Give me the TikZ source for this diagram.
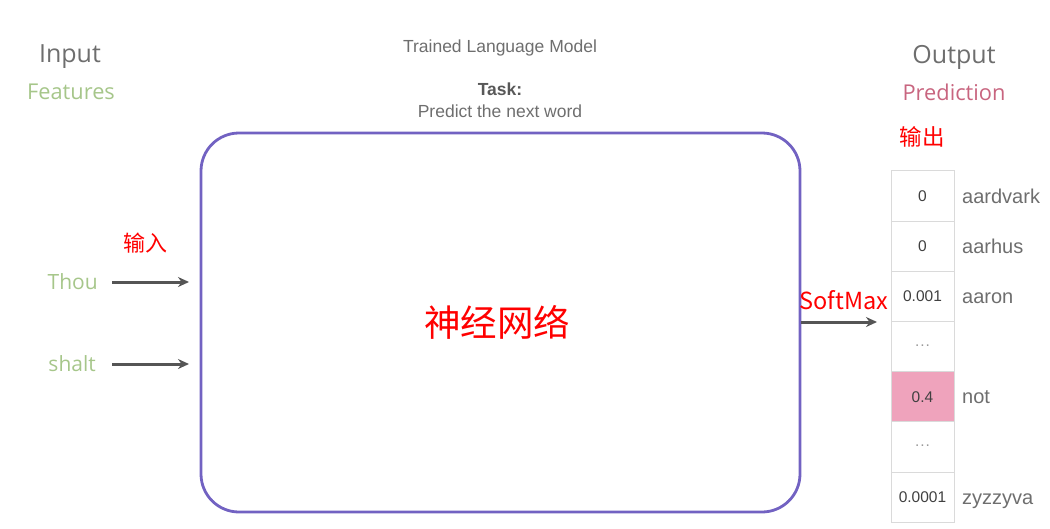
\documentclass[tikz,border=0pt]{standalone}
\usepackage{fontspec}
\setmainfont{Liberation Sans}
\newfontfamily\osans{Open Sans}
\newfontfamily\cjk{Noto Sans CJK SC}
\usetikzlibrary{arrows.meta}
\definecolor{txtgray}{HTML}{6E6E6E}
\definecolor{featgreen}{HTML}{A6C68A}
\definecolor{predpink}{HTML}{C8657F}
\definecolor{boxpurple}{HTML}{7262C2}
\definecolor{arrgray}{HTML}{555555}
\definecolor{cellline}{HTML}{DADADA}
\definecolor{hotpink}{HTML}{EFA3BC}
\newcommand\celldots{\textcolor{black!40}{\raisebox{2pt}{.\kern1pt.\kern1pt.}}}
\tikzset{
  x=1pt, y=-1pt,
  head/.style={font=\osans\fontsize{25}{30}\selectfont, text=txtgray, inner sep=0},
  sub/.style={font=\osans\fontsize{21.8}{24}\selectfont, inner sep=0},
  word/.style={font=\osans\fontsize{21}{24}\selectfont, text=featgreen, inner sep=0},
  redtxt/.style={font=\cjk\fontsize{22}{24}\selectfont, text=red, inner sep=0},
  arr/.style={draw=arrgray, line width=3pt, -{Stealth[length=11pt,width=10pt]}},
  cell/.style={draw=cellline, line width=1pt, minimum width=63pt, minimum height=50.3pt, inner sep=0,
     font=\fontsize{15.5}{18}\selectfont, text=black!75},
  lab/.style={anchor=base west, font=\fontsize{20}{22}\selectfont, text=txtgray, inner sep=0},
  small/.style={font=\fontsize{17.5}{20}\selectfont, text=txtgray, inner sep=0},
}
\begin{document}
\begin{tikzpicture}
\useasboundingbox (0,0) rectangle (1050,528);
% headers
\node[head] (inp) at (70,57) {Input};
\node[sub, text=featgreen] (feat) at (71,92) {Features};
\node[head] (outp) at (954,57) {Output};
\node[sub, text=predpink] (pred) at (954,92) {Prediction};
\node[small] (tlm) at (500,48) {Trained Language Model};
\node[small, font=\bfseries\fontsize{17.5}{20}\selectfont, text=txtgray!80!black] (task) at (500,89) {Task:};
\node[small] (pnw) at (500,111) {Predict the next word};
% main box
\node[draw=boxpurple, line width=2.8pt, rounded corners=38pt, minimum width=599pt, minimum height=379pt] (nn) at (500.5,322.5) {};
\node[font=\cjk\fontsize{36.5}{40}\selectfont, text=red, inner sep=0] (nnlab) at (497,322) {神经网络};
% inputs
\node[word, anchor=east] (thou) at (98,282) {Thou};
\node[word, anchor=east] (shalt) at (96,364) {shalt};
\node[redtxt] (in) at (145,243) {输入};
\coordinate (t1) at (112,282);
\coordinate (t2) at (189,282);
\coordinate (s1) at (112,364);
\coordinate (s2) at (189,364);
\draw[arr] (t1) -- (t2);
\draw[arr] (s1) -- (s2);
% output column
\node[redtxt, font=\cjk\fontsize{22.5}{24}\selectfont] (out) at (922,137) {输出};
\foreach \i/\v/\l/\f in {1/0/aardvark/white,2/0/aarhus/white,3/0.001/aaron/white,4/\celldots//white,5/0.4/not/hotpink,6/\celldots//white,7/0.0001/zyzzyva/white}{
  \node[cell, fill=\f] (c\i) at (922.5,{171+50.2*(\i-0.5)}) {\v};
  \node[lab] (l\i) at (962,{171+50.2*(\i-0.5)+7}) {\l};
}
% softmax arrow
\coordinate (o1) at (801,322);
\coordinate (o2) at (877,322);
\draw[arr] (o1) -- (o2);
\node[redtxt, font=\cjk\fontsize{23.5}{26}\selectfont] (sm) at (844,300) {SoftMax};
\end{tikzpicture}
\end{document}
